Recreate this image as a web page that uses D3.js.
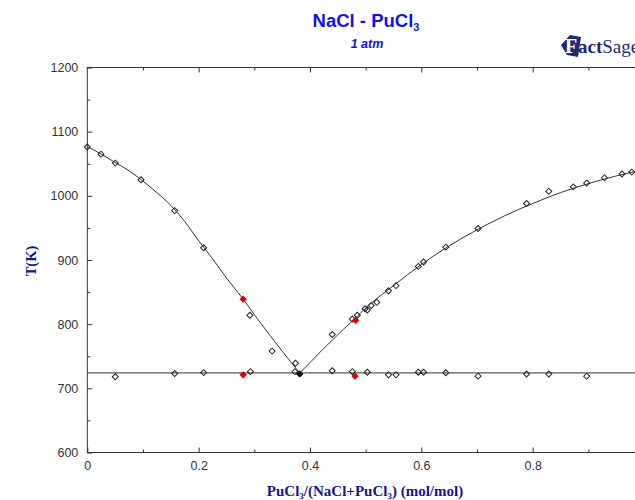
<!DOCTYPE html>
<html>
<head>
<meta charset="utf-8">
<script src="https://cdn.jsdelivr.net/npm/d3@7"></script>
<style>
  body { margin: 0; background: #fff; }
  svg { display: block; }
  .tick text { font-family: "Liberation Sans", Arial, sans-serif; font-size: 12.5px; fill: #333; }
  .axis path, .axis line { stroke: #333; }
</style>
</head>
<body>
<script>
// calculated liquidus, NaCl side
var leftX = [0, 0.025, 0.05, 0.075, 0.1, 0.125, 0.15, 0.175, 0.2, 0.225, 0.25, 0.28, 0.3, 0.35, 0.3815];
var leftT = [1077, 1065, 1052, 1039, 1023, 1005, 985, 960, 930, 902, 872, 839, 815, 758, 724];
// calculated liquidus, PuCl3 side
var rightX = [0.3815, 0.4, 0.42, 0.44, 0.46, 0.48, 0.5, 0.55, 0.6, 0.65, 0.7, 0.75, 0.8, 0.85, 0.9, 0.95, 1.0];
var rightT = [724, 740, 758, 775, 792, 808, 825, 860, 893, 922, 947, 969, 988, 1005, 1019, 1031, 1041];
var eutecticT = 724;

// experimental points (open diamonds)
var expX = [0, 0.0246, 0.0503, 0.0965, 0.157, 0.209, 0.292, 0.332, 0.374, 0.373,
            0.440, 0.476, 0.485, 0.499, 0.503, 0.510, 0.520, 0.541, 0.5545, 0.5946, 0.604, 0.644, 0.702, 0.789, 0.829, 0.873, 0.897, 0.929, 0.9605, 0.978,
            0.0503, 0.157, 0.209, 0.293, 0.440, 0.476, 0.503, 0.541, 0.5545, 0.5946, 0.604, 0.644, 0.702, 0.789, 0.829, 0.897];
var expT = [1076, 1065, 1051, 1025, 977, 919, 814, 758, 739, 726,
            784, 808, 814, 824, 822, 829, 834, 852, 860, 890, 897, 920, 949, 988, 1007, 1014, 1020, 1028, 1034, 1037,
            718, 723, 724.5, 726, 727.5, 726, 725, 721, 721, 725, 725, 724.4, 719, 722.4, 722.4, 719];
// red filled diamonds
var redX = [0.280, 0.280, 0.482, 0.481];
var redT = [839, 721, 806, 719];
// calculated eutectic point
var eutX = [0.3815];
var eutT = [722.5];

var xTicks = [0, 0.2, 0.4, 0.6, 0.8];
var xMajorTop = [0.2, 0.4, 0.6, 0.8, 1.0];
var xMinor = [0.1, 0.3, 0.5, 0.7, 0.9];
var yTicks = [600, 700, 800, 900, 1000, 1100, 1200];
var yMinor = [650, 750, 850, 950, 1050, 1150];

var W = 635, H = 500;
var margin = {left: 87.3, right: 644, top: 67.5, bottom: 452.5};

var svg = d3.select("body").append("svg")
    .attr("width", W).attr("height", H);

var x = d3.scaleLinear().domain([0, 1]).range([margin.left, margin.right]);
var y = d3.scaleLinear().domain([600, 1200]).range([margin.bottom, margin.top]);

// frame
svg.append("rect")
    .attr("x", margin.left).attr("y", margin.top)
    .attr("width", margin.right - margin.left).attr("height", margin.bottom - margin.top)
    .attr("fill", "none").attr("stroke", "#333").attr("stroke-width", 1);

function noDomain(g) { g.select(".domain").remove(); }

// axes, ticks pointing inward
svg.append("g").attr("class", "axis")
    .attr("transform", "translate(0," + margin.bottom + ")")
    .call(d3.axisBottom(x).tickValues(xTicks).tickSize(-5).tickPadding(9).tickFormat(d3.format("")))
    .call(noDomain);
svg.append("g").attr("class", "axis")
    .attr("transform", "translate(0," + margin.bottom + ")")
    .call(d3.axisBottom(x).tickValues(xMinor).tickSize(-3).tickFormat(""))
    .call(noDomain);
svg.append("g").attr("class", "axis")
    .attr("transform", "translate(0," + margin.top + ")")
    .call(d3.axisTop(x).tickValues(xMajorTop).tickSize(-5).tickFormat(""))
    .call(noDomain);
svg.append("g").attr("class", "axis")
    .attr("transform", "translate(0," + margin.top + ")")
    .call(d3.axisTop(x).tickValues(xMinor).tickSize(-3).tickFormat(""))
    .call(noDomain);

svg.append("g").attr("class", "axis")
    .attr("transform", "translate(" + margin.left + ",0)")
    .call(d3.axisLeft(y).tickValues(yTicks).tickSize(-5).tickPadding(9).tickFormat(d3.format("d")))
    .call(noDomain);
svg.append("g").attr("class", "axis")
    .attr("transform", "translate(" + margin.left + ",0)")
    .call(d3.axisLeft(y).tickValues(yMinor).tickSize(-3).tickFormat(""))
    .call(noDomain);

// eutectic line
svg.append("line")
    .attr("x1", x(0)).attr("x2", x(1))
    .attr("y1", y(eutecticT)).attr("y2", y(eutecticT))
    .attr("stroke", "#333").attr("stroke-width", 1);

var line = d3.line()
    .x(function(d) { return x(d[0]); })
    .y(function(d) { return y(d[1]); })
    .curve(d3.curveMonotoneX);

svg.append("path")
    .datum(leftX.map(function(v, i) { return [v, leftT[i]]; }))
    .attr("d", line)
    .attr("fill", "none").attr("stroke", "#333").attr("stroke-width", 1);
svg.append("path")
    .datum(rightX.map(function(v, i) { return [v, rightT[i]]; }))
    .attr("d", line)
    .attr("fill", "none").attr("stroke", "#333").attr("stroke-width", 1);

// markers: squares turned 45 degrees
var diamond = d3.symbol().type(d3.symbolSquare).size(18);

function drawMarks(xs, ts, fill, stroke) {
    svg.append("g").selectAll("path")
        .data(xs.map(function(v, i) { return [v, ts[i]]; }))
        .enter().append("path")
        .attr("d", diamond)
        .attr("transform", function(d) { return "translate(" + x(d[0]) + "," + y(d[1]) + ") rotate(45)"; })
        .attr("fill", fill).attr("stroke", stroke).attr("stroke-width", 1);
}
drawMarks(expX, expT, "none", "#222");
drawMarks(redX, redT, "#e00000", "#e00000");
drawMarks(eutX, eutT, "#000", "#000");

// title
var title = svg.append("text")
    .attr("x", 366).attr("y", 27)
    .attr("text-anchor", "middle")
    .style("font-family", "Liberation Sans, Arial, sans-serif")
    .style("font-size", "18.5px").style("font-weight", "bold")
    .attr("fill", "#1010f0");
title.append("tspan").text("NaCl - PuCl");
title.append("tspan").attr("dy", 4).style("font-size", "11px").text("3");

svg.append("text")
    .attr("x", 367).attr("y", 48)
    .attr("text-anchor", "middle")
    .style("font-family", "Liberation Sans, Arial, sans-serif")
    .style("font-size", "12.5px").style("font-weight", "bold").style("font-style", "italic")
    .attr("fill", "#1010f0")
    .text("1 atm");

// FactSage logo (rough), cut at the right edge as in the original
var logo = svg.append("g").attr("transform", "translate(561,33)");
logo.append("path")
    .attr("d", "M0,12 L9,2 L20,4 L17,24 L6,22 Z")
    .attr("fill", "#1c2a6e");
logo.append("text")
    .attr("x", 4).attr("y", 20)
    .style("font-family", "Liberation Serif, serif")
    .style("font-size", "20px").style("font-weight", "bold")
    .attr("fill", "#fff")
    .text("F");
var lt = logo.append("text")
    .attr("x", 17).attr("y", 20)
    .style("font-family", "Liberation Serif, serif")
    .style("font-size", "19px")
    .attr("fill", "#1c2a6e");
lt.append("tspan").style("font-weight", "bold").text("act");
lt.append("tspan").text("Sage");

// axis titles
var xl = svg.append("text")
    .attr("x", 365).attr("y", 496)
    .attr("text-anchor", "middle")
    .style("font-family", "Liberation Serif, Times New Roman, serif")
    .style("font-size", "15px").style("font-weight", "bold")
    .attr("fill", "#14148c");
xl.append("tspan").text("PuCl");
xl.append("tspan").attr("dy", 3).style("font-size", "9px").text("3");
xl.append("tspan").attr("dy", -3).text("/(NaCl+PuCl");
xl.append("tspan").attr("dy", 3).style("font-size", "9px").text("3");
xl.append("tspan").attr("dy", -3).text(") (mol/mol)");

svg.append("text")
    .attr("transform", "translate(36,261) rotate(-90)")
    .attr("text-anchor", "middle")
    .style("font-family", "Liberation Serif, Times New Roman, serif")
    .style("font-size", "14.5px").style("font-weight", "bold")
    .attr("fill", "#14148c")
    .text("T(K)");
</script>
</body>
</html>
